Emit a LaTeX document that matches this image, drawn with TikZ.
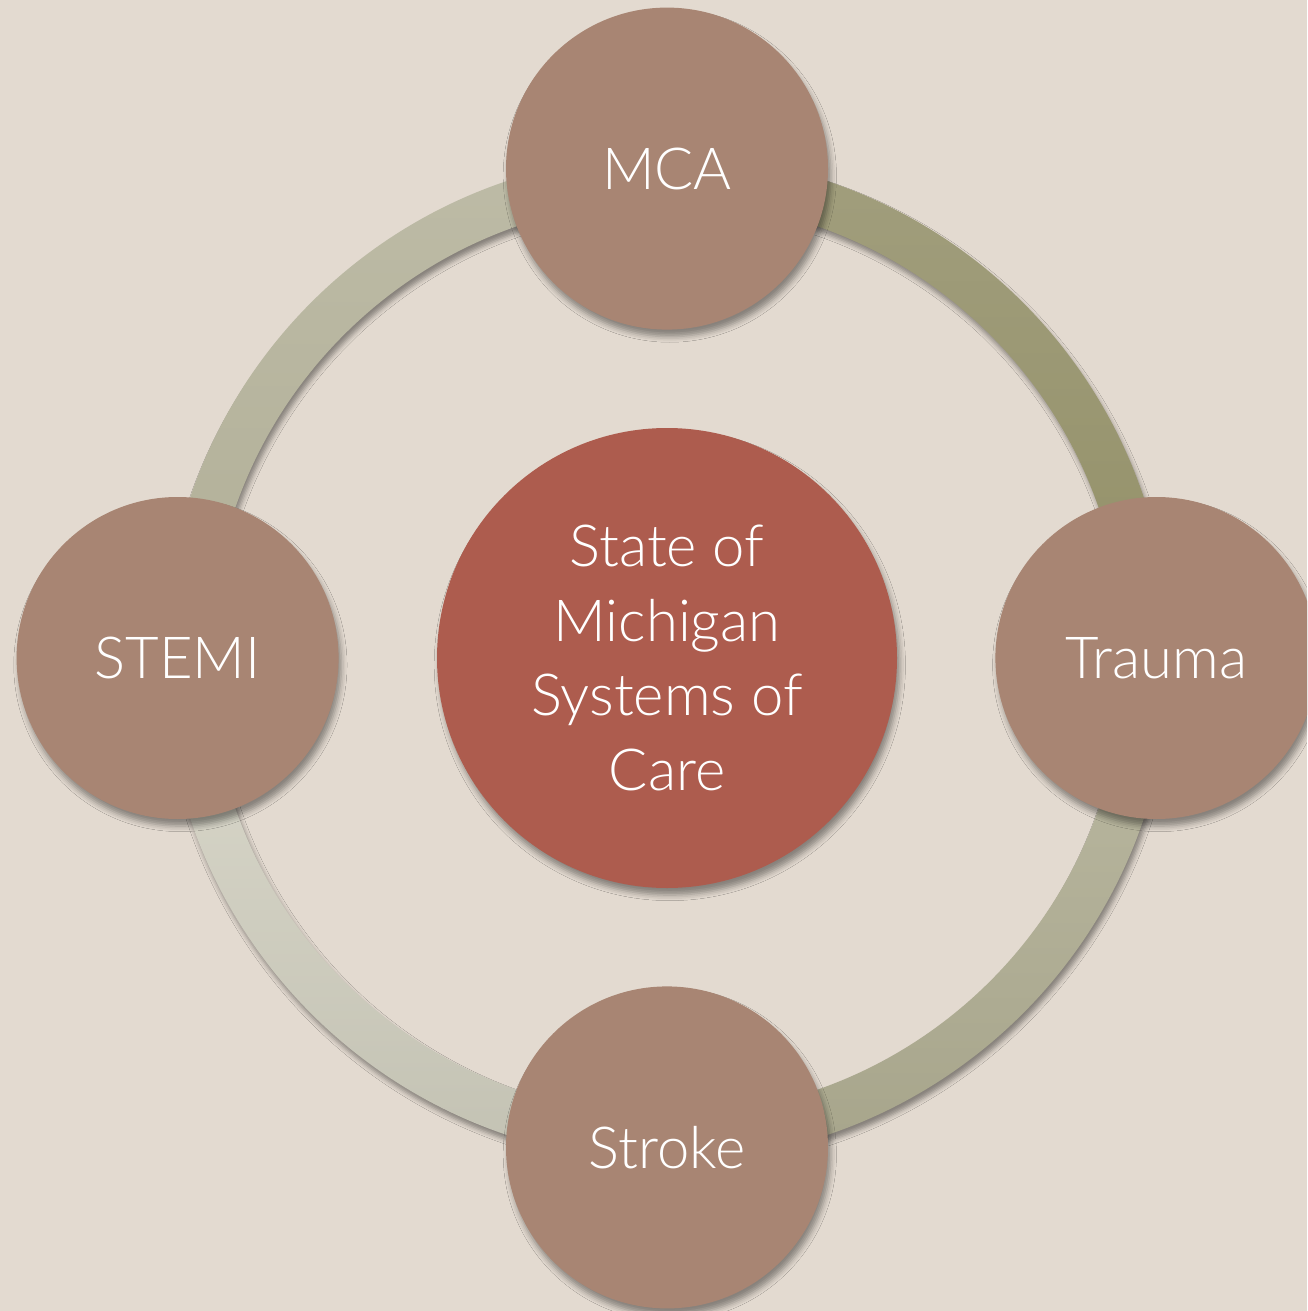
\documentclass[tikz,border=0pt]{standalone}
\usepackage{fontspec}
\setmainfont{Lato Light}
\usepackage{tikz}
\usetikzlibrary{calc}
\usetikzlibrary{positioning,shadows.blur}
\definecolor{paper}{HTML}{E3DAD0}
\definecolor{hubred}{HTML}{AD5C4E}
\definecolor{spoke}{HTML}{A88573}
\definecolor{trtop}{HTML}{A19E7D}
\definecolor{trbot}{HTML}{939067}
\definecolor{tltop}{HTML}{BDBBA6}
\definecolor{tlbot}{HTML}{B1AF97}
\definecolor{bltop}{HTML}{DBD9CC}
\definecolor{blbot}{HTML}{C3C2B3}
\definecolor{brtop}{HTML}{BBB9A2}
\definecolor{brbot}{HTML}{A7A58B}

\begin{document}
\begin{tikzpicture}[
    hub/.style={circle, fill=hubred, minimum size=4.6cm, inner sep=0pt,
      text=white, align=center, font=\fontsize{16.5}{21.2}\selectfont,
      blur shadow={shadow xshift=0.8pt, shadow yshift=-2pt, shadow blur radius=1.6pt, shadow opacity=40}},
    sat/.style={circle, fill=spoke, minimum size=3.22cm, inner sep=0pt,
      text=white, font=\fontsize{16.5}{20}\selectfont,
      blur shadow={shadow xshift=0.8pt, shadow yshift=-2pt, shadow blur radius=1.6pt, shadow opacity=40}},
    node distance=0.97cm]
        \useasboundingbox (0,0) rectangle (13.07,-13.11);
        \clip (0,0) rectangle (13.07,-13.11);
        \fill[paper] (0,0) rectangle (13.07,-13.11);
        \coordinate (O) at (6.67,-6.58);
        \foreach \a/\ct/\cb in {0/trtop/trbot, 90/tltop/tlbot, 180/bltop/blbot, 270/brtop/brbot}
          \shade[top color=\ct, bottom color=\cb,
            blur shadow={shadow xshift=0.7pt, shadow yshift=-1.6pt, shadow blur radius=1.3pt, shadow opacity=40}]
            ($(O)+(\a:5.03)$) arc[start angle=\a, delta angle=90, radius=5.03]
            -- ($(O)+(\a+90:4.57)$) arc[start angle=\a+90, delta angle=-90, radius=4.57] -- cycle;
        \node[hub] (hub) at (O) {State of\\Michigan\\Systems of\\Care};
        \node[sat, above=of hub] (mca) {MCA};
        \node[sat, right=of hub] (trauma) {Trauma};
        \node[sat, below=of hub] (stroke) {Stroke};
        \node[sat, left=of hub] (stemi) {STEMI};
\end{tikzpicture}
\end{document}
